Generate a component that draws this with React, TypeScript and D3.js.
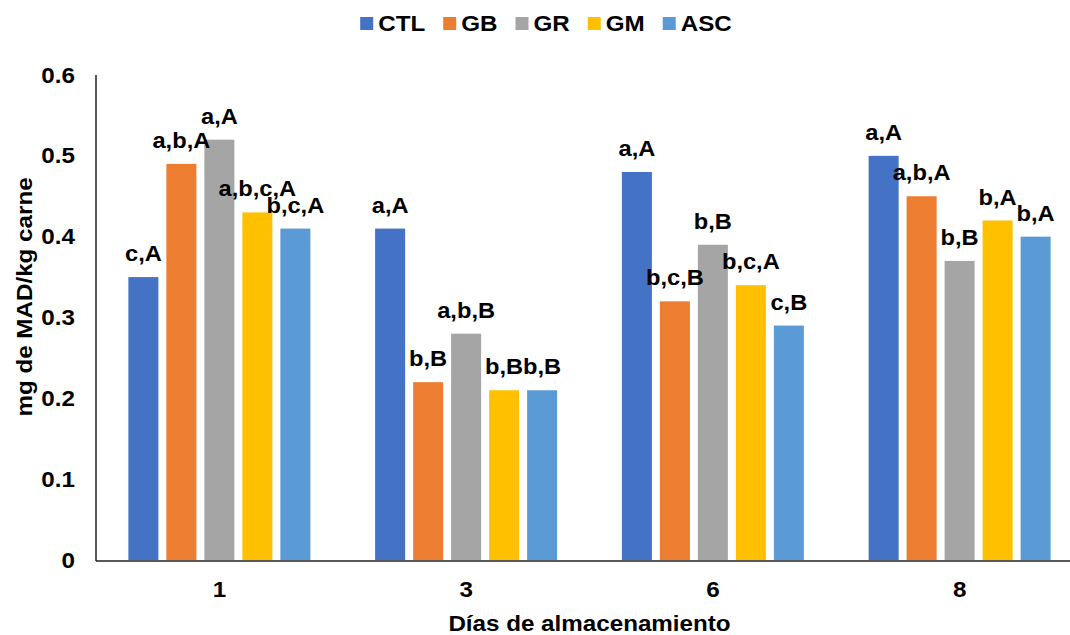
import React, { useEffect, useRef } from 'react'
import * as d3 from 'd3'

const days = ['1', '3', '6', '8']
const series = ['CTL', 'GB', 'GR', 'GM', 'ASC']
const colors = ['#4472C4', '#ED7D31', '#A5A5A5', '#FFC000', '#5B9BD5']

// values per series, one per day
const ctl = [0.35, 0.41, 0.48, 0.5]
const gb = [0.49, 0.22, 0.32, 0.45]
const gr = [0.52, 0.28, 0.39, 0.37]
const gm = [0.43, 0.21, 0.34, 0.42]
const asc = [0.41, 0.21, 0.29, 0.4]

// significance letters per series, one per day
const ctlLabels = ['c,A', 'a,A', 'a,A', 'a,A']
const gbLabels = ['a,b,A', 'b,B', 'b,c,B', 'a,b,A']
const grLabels = ['a,A', 'a,b,B', 'b,B', 'b,B']
const gmLabels = ['a,b,c,A', 'b,B', 'b,c,A', 'b,A']
const ascLabels = ['b,c,A', 'b,B', 'c,B', 'b,A']

const yTicks = [0, 0.1, 0.2, 0.3, 0.4, 0.5, 0.6]

const values = [ctl, gb, gr, gm, asc]
const labels = [ctlLabels, gbLabels, grLabels, gmLabels, ascLabels]

const W = 1070
const H = 635
const FONT = "'Liberation Sans', Arial, sans-serif"
const SX = 1.1 // text in the reference is a bit wide

const App = () => {
  const svgRef = useRef<SVGSVGElement>(null)

  useEffect(() => {
    if (!svgRef.current) return
    const svg = d3.select(svgRef.current)
    svg.selectAll('*').remove()

    const left = 96
    const right = 1083 // plot runs past the right edge of the picture
    const top = 75
    const bottom = 560

    const x0 = d3.scaleBand<string>().domain(days).range([left, right]).padding(0)
    const bw = x0.bandwidth()
    const x1 = d3
      .scaleBand<string>()
      .domain(series)
      .range([bw / 2 - 91, bw / 2 + 91])
      .paddingInner(0.21)
      .paddingOuter(0)
    const y = d3.scaleLinear().domain([0, 0.6]).range([bottom, top])

    const text = (
      g: d3.Selection<any, any, any, any>,
      tx: number,
      ty: number,
      s: string,
      size: number,
      anchor: string,
      rotate = 0,
    ) =>
      g
        .append('text')
        .attr('transform', `translate(${tx},${ty}) rotate(${rotate}) scale(${SX},1)`)
        .attr('font-family', FONT)
        .attr('font-weight', 'bold')
        .attr('font-size', size)
        .attr('fill', '#000')
        .attr('text-anchor', anchor)
        .text(s)

    // bars
    const groups = svg
      .append('g')
      .selectAll('g')
      .data(days)
      .join('g')
      .attr('transform', (d) => `translate(${x0(d)},0)`)

    series.forEach((s, si) => {
      groups
        .append('rect')
        .attr('x', x1(s)!)
        .attr('y', (d, i) => y(values[si][i]))
        .attr('width', x1.bandwidth())
        .attr('height', (d, i) => y(0) - y(values[si][i]))
        .attr('fill', colors[si])
    })

    // bar labels
    const lab = svg.append('g')
    days.forEach((d, i) => {
      series.forEach((s, si) => {
        text(
          lab,
          x0(d)! + x1(s)! + x1.bandwidth() / 2,
          y(values[si][i]) - 16,
          labels[si][i],
          21.5,
          'middle',
        )
      })
    })

    // axes
    svg
      .append('line')
      .attr('x1', left)
      .attr('x2', left)
      .attr('y1', top)
      .attr('y2', bottom + 1)
      .attr('stroke', '#222')
      .attr('stroke-width', 1.5)
    svg
      .append('line')
      .attr('x1', left)
      .attr('x2', right)
      .attr('y1', bottom + 1)
      .attr('y2', bottom + 1)
      .attr('stroke', '#222')
      .attr('stroke-width', 1.5)

    const yt = svg.append('g')
    yTicks.forEach((t) => {
      text(yt, 75, y(t) + 7.5, t === 0 ? '0' : t.toFixed(1), 22, 'end')
    })

    const xt = svg.append('g')
    days.forEach((d) => {
      text(xt, x0(d)! + bw / 2, 597, d, 22, 'middle')
    })

    text(svg, (left + right) / 2, 631, 'Días de almacenamiento', 22, 'middle')
    text(svg, 32, 297, 'mg de MAD/kg carne', 22, 'middle', -90)

    // legend
    const leg = svg.append('g')
    const items = series.map((s, si) => {
      const g = leg.append('g')
      g.append('rect').attr('x', 0).attr('y', 17).attr('width', 13).attr('height', 13).attr('fill', colors[si])
      const t = text(g, 18, 31, s, 22, 'start')
      const w = (t.node() as SVGTextElement).getComputedTextLength() * SX
      return { g, w: 18 + w }
    })
    const gap = 18
    const total = d3.sum(items, (d) => d.w) + gap * (items.length - 1)
    let cx = 546 - total / 2
    items.forEach((it) => {
      it.g.attr('transform', `translate(${cx},0)`)
      cx += it.w + gap
    })
  }, [])

  return (
    <svg
      ref={svgRef}
      width={W}
      height={H}
      style={{ position: 'absolute', left: 0, top: 0, background: '#fff' }}
    />
  )
}

export default App
